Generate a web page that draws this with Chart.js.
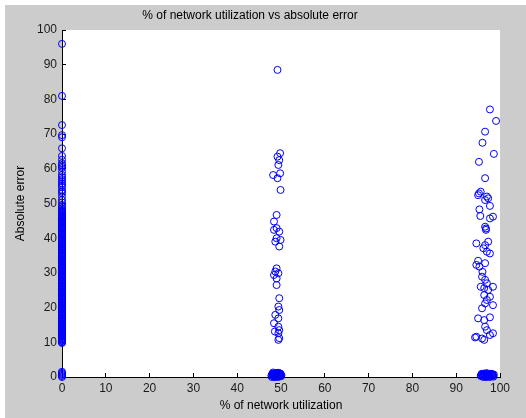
<!DOCTYPE html>
<html>
<head>
<meta charset="utf-8">
<script src="https://cdn.jsdelivr.net/npm/chart.js@4/dist/chart.umd.min.js"></script>
<style>
  html, body { margin: 0; padding: 0; background: #fff; }
  canvas { display: block; }
</style>
</head>
<body>
<canvas id="chart" width="526" height="418"></canvas>
<script>
// values
const titleText = '% of network utilization vs absolute error';
const xLabel = '% of network utilization';
const yLabel = 'Absolute error';

// column at 0 % utilization (x is always 0), very dense between 10 and 48
const lowError = [0.0, 0.3, 0.6, 0.9, 1.2, 1.5,
  9.8, 10.0, 10.3, 10.5, 10.8, 11.0, 11.2, 11.5, 11.7, 12.0, 12.2, 12.5, 12.7, 12.9, 13.2, 13.4,
  13.7, 13.9, 14.2, 14.4, 14.6, 14.9, 15.1, 15.4, 15.6, 15.9, 16.1, 16.3, 16.6, 16.8, 17.1, 17.3,
  17.6, 17.8, 18.0, 18.3, 18.5, 18.8, 19.0, 19.3, 19.5, 19.7, 20.0, 20.2, 20.5, 20.7, 21.0, 21.2,
  21.4, 21.7, 21.9, 22.2, 22.4, 22.7, 22.9, 23.1, 23.4, 23.6, 23.9, 24.1, 24.4, 24.6, 24.8, 25.1,
  25.3, 25.6, 25.8, 26.1, 26.3, 26.5, 26.8, 27.0, 27.3, 27.5, 27.8, 28.0, 28.2, 28.5, 28.7, 29.0,
  29.2, 29.5, 29.7, 29.9, 30.2, 30.4, 30.7, 30.9, 31.2, 31.4, 31.6, 31.9, 32.1, 32.4, 32.6, 32.9,
  33.1, 33.3, 33.6, 33.8, 34.1, 34.3, 34.6, 34.8, 35.0, 35.3, 35.5, 35.8, 36.0, 36.3, 36.5, 36.7,
  37.0, 37.2, 37.5, 37.7, 38.0, 38.2, 38.4, 38.7, 38.9, 39.2, 39.4, 39.7, 39.9, 40.1, 40.4, 40.6,
  40.9, 41.1, 41.4, 41.6, 41.8, 42.1, 42.3, 42.6, 42.8, 43.1, 43.3, 43.5, 43.8, 44.0, 44.3, 44.5,
  44.8, 45.0, 45.2, 45.5, 45.7, 46.0, 46.2, 46.5, 46.7, 46.9, 47.2, 47.4, 47.7, 47.9, 48.2,
  48.7, 49.2, 49.6, 50.3, 51.0, 52.0, 52.9, 53.4, 53.9, 54.8, 55.3, 55.8, 56.4, 57.0, 57.6, 58.2,
  59.2, 60.2, 60.6, 61.1, 61.6, 62.6, 63.7, 65.9, 69.1, 69.7, 72.6, 81.0, 96.0];

// cluster near 50 %
const midUtil = [49.2, 49.8, 49.2, 49.6, 49.4, 48.2, 49.8, 49.2, 49.9, 49.0, 48.4, 49.0, 48.4, 49.6,
  49.0, 49.9, 48.7, 49.6, 49.0, 48.7, 49.4, 48.4, 49.0, 49.0, 49.6, 49.4, 49.6, 48.7, 49.4, 48.4,
  49.4, 49.6, 48.6, 49.4, 49.6, 49.4,
  47.8, 48.1, 48.4, 48.7, 49.0, 49.3, 49.6, 49.9, 50.1, 48.2, 48.6, 49.1, 49.5, 49.8, 48.0, 48.9,
  49.7, 47.9, 48.3, 48.5, 48.8, 49.2, 49.4, 49.7, 50.0, 48.1, 48.4, 48.9, 49.3, 49.6, 49.9, 48.6];
const midError = [88.5, 64.5, 63.5, 62.5, 61.1, 58.2, 58.7, 57.3, 53.9, 46.7, 44.8, 42.9, 42.4, 41.9,
  40.0, 39.5, 39.0, 37.6, 31.3, 30.4, 29.9, 29.4, 28.4, 26.5, 22.7, 20.3, 19.3, 17.9, 16.9, 15.5,
  14.5, 13.5, 13.1, 12.6, 11.2, 10.7,
  0.4, 0.8, 0.2, 1.1, 0.5, 0.9, 0.3, 0.7, 0.5, 1.3, 0.0, 1.2, 0.1, 1.0, 0.9, 0.6,
  0.4, 0.0, 0.5, 1.0, 0.3, 0.0, 1.2, 0.8, 0.2, 0.9, 0.1, 0.7, 0.4, 1.1, 0.9, 0.6];

// cluster near 96 %
const highUtil = [97.7, 99.1, 96.6, 96.0, 98.6, 95.2, 96.6, 95.2, 95.6, 95.0, 97.0, 97.3, 96.6, 97.7,
  95.3, 95.5, 98.4, 97.7, 96.6, 96.8, 96.8, 94.6, 97.3, 96.6, 97.7, 96.2, 97.0, 95.0, 94.6, 95.3,
  96.6, 96.0, 95.9, 96.6, 97.0, 95.6, 96.4, 98.4, 97.3, 96.4, 97.7, 97.0, 98.4, 95.9, 96.6, 95.0,
  96.4, 97.7, 96.6, 97.0, 94.6, 95.9, 96.4, 98.4, 97.7, 94.3,
  95.7, 96.0, 96.3, 96.6, 96.9, 97.2, 97.5, 97.8, 98.1, 98.4, 98.6, 96.1, 96.8, 97.4, 98.0, 95.9,
  97.1, 95.8, 96.2, 96.5, 96.7, 97.0, 97.3, 97.6, 97.9, 98.2, 98.5, 96.4, 97.7, 95.6, 98.3];
const highError = [77.1, 73.8, 70.7, 67.5, 64.3, 62.0, 57.3, 52.9, 53.4, 52.4, 52.0, 51.5, 51.0, 49.3,
  48.3, 46.4, 46.2, 45.7, 43.3, 42.8, 42.4, 38.5, 39.0, 38.0, 35.6, 37.1, 36.1, 33.5, 32.3, 31.8,
  32.8, 30.3, 28.9, 28.0, 27.0, 26.0, 25.6, 26.0, 25.1, 23.6, 23.1, 22.2, 20.7, 19.8, 21.2, 16.9,
  16.4, 17.2, 14.5, 13.5, 11.6, 11.1, 10.7, 12.6, 12.1, 11.4,
  0.5, 0.2, 0.9, 0.4, 1.0, 0.3, 0.8, 0.1, 0.6, 0.4, 0.7, 0.6, 0.0, 0.5, 0.9, 0.8,
  0.2, 0.9, 0.0, 0.6, 0.3, 1.1, 0.5, 0.0, 0.9, 0.3, 0.1, 1.0, 0.4, 0.3, 0.8];

const points = [];
lowError.forEach(e => points.push({x: 0, y: e}));
midUtil.forEach((u, i) => points.push({x: u, y: midError[i]}));
highUtil.forEach((u, i) => points.push({x: u, y: highError[i]}));

// gray figure background, white axes box
const figureBg = {
  id: 'figureBg',
  beforeDraw(chart) {
    const ctx = chart.ctx, a = chart.chartArea;
    ctx.save();
    ctx.fillStyle = '#ffffff';
    ctx.fillRect(0, 0, chart.width, chart.height);
    ctx.fillStyle = '#cccccc';
    ctx.fillRect(5, 5, chart.width - 5, chart.height - 5);
    ctx.fillStyle = '#ffffff';
    ctx.fillRect(a.left, a.top, a.right - a.left, a.bottom - a.top);
    ctx.restore();
  }
};

Chart.defaults.font.family = '"Liberation Sans", Arial, sans-serif';
Chart.defaults.font.size = 12;
Chart.defaults.color = '#1a1a1a';

new Chart(document.getElementById('chart'), {
  type: 'scatter',
  data: {
    datasets: [{
      data: points,
      pointStyle: 'circle',
      pointRadius: 3.5,
      pointHoverRadius: 3.5,
      pointBorderWidth: 1,
      pointBorderColor: '#0000ff',
      pointBackgroundColor: 'rgba(0,0,0,0)',
      clip: false
    }]
  },
  options: {
    responsive: false,
    animation: false,
    events: [],
    layout: { padding: { left: 0, right: 26, top: 0, bottom: 0 } },
    plugins: {
      legend: { display: false },
      tooltip: { enabled: false },
      title: {
        display: true,
        text: titleText,
        color: '#000',
        font: { size: 12, weight: 'normal' },
        padding: { top: 8, bottom: 7.6 }
      }
    },
    scales: {
      x: {
        type: 'linear',
        min: 0, max: 100,
        afterFit: s => { s.height = 41; },
        border: { display: true, color: '#000', width: 1 },
        grid: { display: true, drawOnChartArea: false, drawTicks: true, tickLength: -4, color: '#000' },
        ticks: { stepSize: 10, padding: 8, maxRotation: 0, color: '#1a1a1a' },
        title: { display: true, text: xLabel, color: '#000', padding: { top: 0, bottom: 5 } }
      },
      y: {
        type: 'linear',
        min: 0, max: 100,
        afterFit: s => { s.width = 62; },
        border: { display: true, color: '#000', width: 1 },
        grid: { display: true, drawOnChartArea: false, drawTicks: true, tickLength: -4, color: '#000' },
        ticks: { stepSize: 10, padding: 9, color: '#1a1a1a' },
        title: { display: true, text: yLabel, color: '#000', padding: { top: 13, bottom: 0 } }
      }
    }
  },
  plugins: [figureBg]
});
</script>
</body>
</html>
